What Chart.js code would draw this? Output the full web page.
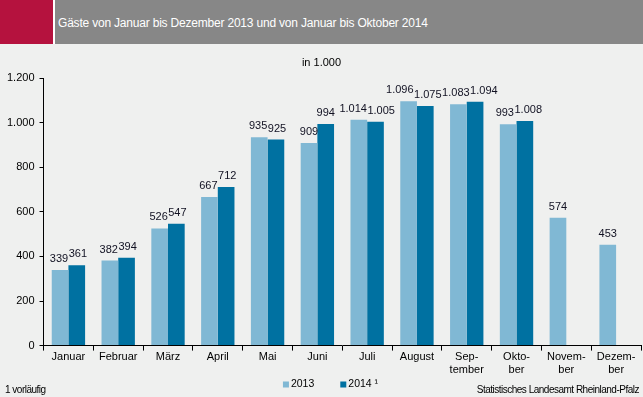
<!DOCTYPE html>
<html>
<head>
<meta charset="utf-8">
<script src="https://cdn.jsdelivr.net/npm/chart.js"></script>
<style>
  body { margin: 0; width: 643px; height: 397px; background: #eff0ef; font-family: "Liberation Sans", Arial, sans-serif; position: relative; overflow: hidden; }
  #head { position: absolute; left: 0; top: 0; width: 643px; height: 44px; background: #878787; }
  #red { position: absolute; left: 0; top: 0; width: 53px; height: 44px; background: #b5123e; border-right: 2px solid #ffffff; }
  #title { position: absolute; left: 58px; top: 16px; color: #ffffff; font-size: 12px; letter-spacing: -0.2px; }
  #box { position: absolute; left: 0; top: 44px; width: 643px; height: 353px; }
  .foot { position: absolute; top: 384px; font-size: 10px; color: #000; letter-spacing: -0.5px; }
</style>
</head>
<body>
<div id="head"><div id="red"></div><div id="title">Gäste von Januar bis Dezember 2013 und von Januar bis Oktober 2014</div></div>
<div id="box"><canvas id="barChart" width="643" height="353"></canvas></div>
<div class="foot" style="left:5px;">1 vorläufig</div>
<div class="foot" style="right:4px;">Statistisches Landesamt Rheinland-Pfalz</div>
<script>
    var monate = ['Januar', 'Februar', 'März', 'April', 'Mai', 'Juni', 'Juli', 'August',
        ['Sep-', 'tember'], ['Okto-', 'ber'], ['Novem-', 'ber'], ['Dezem-', 'ber']];
    var gaeste2013 = [339, 382, 526, 667, 935, 909, 1014, 1096, 1083, 993, 574, 453];
    var gaeste2014 = [361, 394, 547, 712, 925, 994, 1005, 1075, 1094, 1008, null, null];
    var yTicks = [0, 200, 400, 600, 800, 1000, 1200];

    var schrift = '"Liberation Sans", Arial, sans-serif';

    // Werte ueber die Balken, ueberlappende Beschriftungen auseinanderschieben
    var labelPlugin = {
        id: 'werte',
        afterDatasetsDraw: function (chart) {
            var c = chart.ctx;
            c.save();
            c.font = '11px ' + schrift;
            c.fillStyle = '#111122';
            c.textAlign = 'center';
            c.textBaseline = 'middle';
            var lbl = [];
            chart.data.datasets.forEach(function (ds, i) {
                chart.getDatasetMeta(i).data.forEach(function (bar, j) {
                    if (ds.data[j] == null) return;
                    var t = ds.data[j].toLocaleString('de-DE');
                    lbl.push({ t: t, x: bar.x, y: bar.y - 11, w: c.measureText(t).width });
                });
            });
            lbl.sort(function (p, q) { return p.x - q.x; });
            for (var k = 0; k < 30; k++) {
                for (var i = 0; i < lbl.length - 1; i++) {
                    var p = lbl[i], q = lbl[i + 1];
                    var ov = (p.x + p.w / 2) - (q.x - q.w / 2) + 0.5;
                    if (ov > 0 && Math.abs(p.y - q.y) < 12) { p.x -= ov / 2; q.x += ov / 2; }
                }
            }
            lbl.forEach(function (l) { c.fillText(l.t, l.x, l.y); });
            c.restore();
        }
    };

    // Legende unten, eigene Abstaende wie im Original
    var legendPlugin = {
        id: 'legendeUnten',
        afterDraw: function (chart) {
            var c = chart.ctx;
            c.save();
            c.font = '10.5px ' + schrift;
            c.textBaseline = 'middle';
            c.textAlign = 'left';
            var ds = chart.data.datasets;
            var widths = ds.map(function (d) { return 8 + c.measureText(d.label).width; });
            var total = widths.reduce(function (s, w) { return s + w; }, 0) + 26 * (ds.length - 1);
            var x = chart.width / 2 + 9 - total / 2;
            var y = chart.height - 12.5;
            ds.forEach(function (d, i) {
                c.fillStyle = d.backgroundColor;
                c.fillRect(x, y - 3, 6, 6);
                c.fillStyle = '#000';
                c.fillText(d.label, x + 8, y);
                x += widths[i] + 26;
            });
            c.restore();
        }
    };

    var ctx = document.getElementById('barChart').getContext('2d');
    var myBarChart = new Chart(ctx, {
        type: 'bar',
        data: {
            labels: monate,
            datasets: [
                { label: '2013', data: gaeste2013, backgroundColor: '#80b8d4' },
                { label: '2014 ¹', data: gaeste2014, backgroundColor: '#0071a1' }
            ]
        },
        options: {
            responsive: false,
            animation: false,
            locale: 'de-DE',
            layout: { padding: { top: 0, right: 2, left: 2, bottom: 20 } },
            datasets: { bar: { categoryPercentage: 0.67, barPercentage: 1.0 } },
            plugins: {
                title: {
                    display: true, text: 'in 1.000', color: '#000',
                    font: { size: 11, family: schrift, weight: 'normal' },
                    padding: { top: 12, bottom: 9 }
                },
                legend: { display: false },
                tooltip: { enabled: false }
            },
            scales: {
                x: {
                    grid: { drawOnChartArea: false, color: '#000', tickLength: 5, offset: true },
                    border: { color: '#000' },
                    ticks: { color: '#000', maxRotation: 0, autoSkip: false, padding: 0,
                        font: { size: 11, family: schrift } }
                },
                y: {
                    min: 0, max: 1200,
                    afterBuildTicks: function (axis) { axis.ticks = yTicks.map(function (v) { return { value: v }; }); },
                    grid: { drawOnChartArea: false, color: '#000', tickLength: 4 },
                    border: { color: '#000' },
                    ticks: { color: '#000', padding: 5, font: { size: 11, family: schrift } }
                }
            }
        },
        plugins: [labelPlugin, legendPlugin]
    });
</script>
</body>
</html>
